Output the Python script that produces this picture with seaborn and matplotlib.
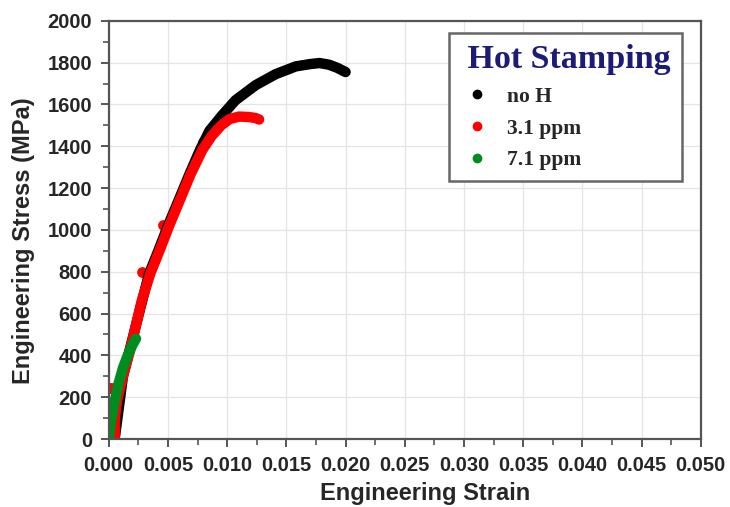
import numpy as np
import pandas as pd
import matplotlib
matplotlib.use("Agg")
import matplotlib.pyplot as plt
from matplotlib.lines import Line2D
import seaborn as sns

# values (strain, stress in MPa)
noh_strain = [0.0005, 0.0012, 0.0023, 0.0034, 0.0042, 0.0050, 0.0059, 0.0068, 0.0077,
              0.0085, 0.0096, 0.0107, 0.0124, 0.0141, 0.0158, 0.0170, 0.0178, 0.0186,
              0.0193, 0.0200]
noh_stress = [0, 300, 545, 790, 903, 1020, 1142, 1265, 1382,
              1474, 1550, 1620, 1692, 1745, 1782, 1793, 1798, 1790,
              1775, 1755]

h31_strain = [0.0005, 0.0005, 0.0007, 0.0012, 0.0018, 0.0023, 0.0028, 0.0035, 0.0043,
              0.0051, 0.0060, 0.0069, 0.0079, 0.0087, 0.0095, 0.0102, 0.0110, 0.0118,
              0.0124, 0.0127]
h31_stress = [0, 90, 186, 300, 425, 545, 664, 790, 903,
              1020, 1142, 1265, 1382, 1450, 1500, 1530, 1542, 1540,
              1535, 1528]
# scattered red points off the main band
h31_out_strain = [0.0000, 0.0002, 0.0004, 0.0028, 0.0046, 0.0080]
h31_out_stress = [245, 245, 245, 800, 1023, 1421]

h71_strain = [0.0000, 0.0002, 0.0005, 0.0008, 0.0012, 0.0016, 0.0020, 0.0023]
h71_stress = [0, 90, 180, 260, 340, 400, 450, 480]

series_names = ["no H", "3.1 ppm", "7.1 ppm"]
series_colors = ["#000000", "#ff0000", "#008c1e"]

x_ticks = [0.000, 0.005, 0.010, 0.015, 0.020, 0.025, 0.030, 0.035, 0.040, 0.045, 0.050]
y_ticks = [0, 200, 400, 600, 800, 1000, 1200, 1400, 1600, 1800, 2000]

sns.set_style("white")
plt.rcParams["font.family"] = ["Liberation Sans", "DejaVu Sans"]

fig = plt.figure(figsize=(7.3, 5.07), dpi=100)
ax = fig.add_axes([0.149, 0.134, 0.811, 0.825])

band = dict(sort=False, linewidth=7.5, solid_capstyle="round", solid_joinstyle="round",
            estimator=None, legend=False)
sns.lineplot(x=noh_strain, y=noh_stress, color=series_colors[0], ax=ax, **band)
sns.lineplot(x=h31_strain, y=h31_stress, color=series_colors[1], ax=ax, **band)
sns.scatterplot(x=h31_out_strain, y=h31_out_stress, color=series_colors[1], s=60,
                linewidth=0, ax=ax, legend=False)
sns.lineplot(x=h71_strain, y=h71_stress, color=series_colors[2], ax=ax, **band)

ax.set_xlim(0, 0.050)
ax.set_ylim(0, 2000)
ax.set_xticks(x_ticks)
ax.set_xticklabels([f"{v:.3f}" for v in x_ticks])
ax.set_yticks(y_ticks)
ax.set_xticks(np.arange(0.0025, 0.05, 0.005), minor=True)
ax.set_yticks(np.arange(100, 2000, 200), minor=True)

ax.grid(True, which="major", color="#e4e4e4", linewidth=0.9)
ax.set_axisbelow(True)
for sp in ax.spines.values():
    sp.set_color("#555555")
    sp.set_linewidth(1.6)

ax.tick_params(axis="both", which="major", direction="out", length=6, width=1.4,
               color="#555555", labelsize=14.5, bottom=True, left=True)
ax.tick_params(axis="x", which="major", pad=6)
ax.tick_params(axis="y", which="major", pad=6)
ax.tick_params(axis="both", which="minor", direction="out", length=4, width=1.2,
               color="#555555", bottom=True, left=True)
for lab in ax.get_xticklabels() + ax.get_yticklabels():
    lab.set_fontweight("bold")

ax.set_xlabel("Engineering Strain", fontsize=17, fontweight="bold")
ax.set_ylabel("Engineering Stress (MPa)", fontsize=17, fontweight="bold")
ax.xaxis.set_label_coords(0.535, -0.103)
ax.yaxis.set_label_coords(-0.124, 0.475)

handles = [Line2D([], [], marker="o", linestyle="", markersize=6,
                  markerfacecolor=c, markeredgecolor=c) for c in series_colors]
leg = ax.legend(handles, series_names, title=" Hot Stamping", loc="upper right",
                bbox_to_anchor=(0.968, 0.971), borderaxespad=0, frameon=True,
                fancybox=False, framealpha=1, edgecolor="#666666",
                prop={"family": "Liberation Serif", "weight": "bold", "size": 15.5},
                handletextpad=0.6, labelspacing=0.55, borderpad=0.5,
                handlelength=1.6)
leg.get_frame().set_linewidth(1.8)
title = leg.get_title()
title.set_fontfamily("Liberation Serif")
title.set_fontweight("bold")
title.set_fontsize(24.5)
title.set_color("#1c1c78")
leg._legend_box.align = "left"

fig.savefig("out.png", dpi=100)
